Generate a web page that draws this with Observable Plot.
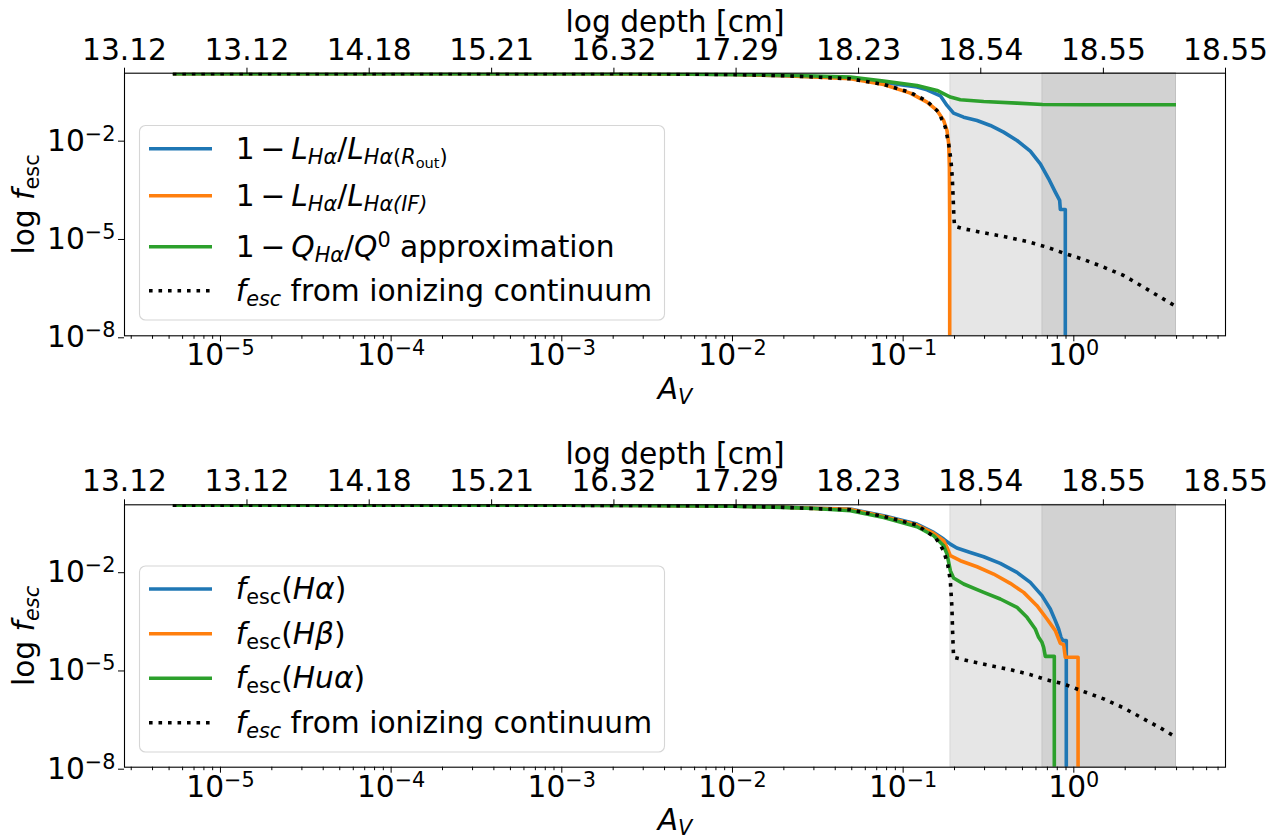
<!DOCTYPE html>
<html><head><meta charset="utf-8">
<script src="https://cdn.jsdelivr.net/npm/d3@7"></script>
<script src="https://cdn.jsdelivr.net/npm/@observablehq/plot@0.6"></script>
<style>
html,body{margin:0;padding:0;background:#fff;}
#wrap{position:relative;width:1279px;height:837px;overflow:hidden;background:#fff;}
#wrap svg{position:absolute;left:0;}
</style></head><body><div id="wrap"></div>
<script>
// ---------------- data (A_V, f_esc) ----------------
const topBlue = [[5.26e-6,1.0],[1e-4,0.9995],[1e-3,0.995],[3e-3,0.985],[1e-2,0.94],[2e-2,0.87],[3e-2,0.81],
  [0.0491,0.74],[0.0769,0.54],[0.1205,0.39],[0.1379,0.321],[0.1652,0.21],[0.1807,0.107],[0.1974,0.0622],
  [0.2262,0.047],[0.271,0.0372],[0.3243,0.0262],[0.3878,0.0164],[0.4645,0.00912],[0.556,0.00431],
  [0.6365,0.00177],[0.7122,6.17e-4],[0.7791,2.42e-4],[0.8262,1.35e-4],[0.8336,7.16e-5],[0.8915,7.16e-5],[0.8915,1e-12]];
const topOrange = [[5.26e-6,1.0],[1e-4,0.9995],[1e-3,0.995],[3e-3,0.985],[1e-2,0.94],[2e-2,0.86],[3e-2,0.79],
  [0.0491,0.695],[0.0769,0.467],[0.1101,0.254],[0.1379,0.135],[0.158,0.0752],[0.1727,0.0372],[0.1807,0.01844],
  [0.1848,0.00722],[0.1866,0.0014],[0.1874,2.07e-5],[0.1874,1e-12]];
const topGreen = [[5.26e-6,1.0],[1e-4,0.9996],[1e-3,0.996],[3e-3,0.988],[1e-2,0.95],[2e-2,0.9],[3e-2,0.85],
  [0.0491,0.782],[0.0769,0.59],[0.1205,0.435],[0.158,0.306],[0.189,0.192],[0.2164,0.159],[0.2965,0.141],
  [0.4645,0.126],[0.656,0.1146],[1.143,0.112],[3.97,0.112]];
const topDotted = [[5.26e-6,1.0],[1e-4,0.9995],[1e-3,0.995],[3e-3,0.985],[1e-2,0.94],[2e-2,0.86],[3e-2,0.79],
  [0.0491,0.695],[0.0769,0.467],[0.1101,0.266],[0.1379,0.145],[0.1615,0.0668],[0.1766,0.0233],[0.1848,0.00722],
  [0.1906,0.00224],[0.194,6.93e-4],[0.1966,1.35e-4],[0.1983,4.18e-5],[0.2001,2.22e-5],[0.2262,1.84e-5],
  [0.2965,1.39e-5],[0.3878,1.07e-5],[0.5318,7.55e-6],[0.6962,5.07e-6],[0.8717,3.33e-6],[1.143,2.13e-6],
  [1.496,1.24e-6],[1.958,6.93e-7],[2.564,3.05e-7],[3.211,1.51e-7],[3.97,7.85e-8]];

const botHa = [[5.26e-6,1.0],[1e-4,0.9995],[1e-3,0.995],[3e-3,0.985],[1e-2,0.94],[2e-2,0.87],[3e-2,0.81],
  [0.0491,0.761],[0.0769,0.476],[0.1205,0.265],[0.151,0.1476],[0.1727,0.0925],[0.189,0.065],[0.2064,0.0492],
  [0.2475,0.0362],[0.2965,0.0267],[0.3708,0.0167],[0.4645,0.00889],[0.556,0.00441],[0.6507,0.00173],
  [0.7283,6.76e-4],[0.7791,2.99e-4],[0.815,1.66e-4],[0.8411,9.25e-5],[0.8639,7.32e-5],[0.9035,7.32e-5],[0.9035,1e-12]];
const botHb = [[5.26e-6,1.0],[1e-4,0.9995],[1e-3,0.995],[3e-3,0.985],[1e-2,0.94],[2e-2,0.87],[3e-2,0.8],
  [0.0491,0.745],[0.0769,0.454],[0.1205,0.247],[0.151,0.1377],[0.1727,0.0822],[0.1807,0.0515],[0.189,0.0287],
  [0.2164,0.0202],[0.271,0.0132],[0.339,0.00791],[0.4243,0.00411],[0.5082,0.00218],[0.6083,8.55e-4],
  [0.6962,3.36e-4],[0.7791,1.48e-4],[0.815,8.23e-5],[0.8336,6.07e-5],[0.8717,5.53e-5],[0.8915,2.27e-5],
  [1.059,2.27e-5],[1.059,1e-12]];
const botHua = [[5.26e-6,1.0],[1e-4,0.9995],[1e-3,0.995],[3e-3,0.985],[1e-2,0.94],[2e-2,0.86],[3e-2,0.79],
  [0.0491,0.676],[0.0769,0.424],[0.1205,0.22],[0.151,0.1169],[0.1727,0.0579],[0.1807,0.0322],[0.189,0.01],
  [0.1974,0.00597],[0.2262,0.00392],[0.2965,0.00218],[0.3708,0.00137],[0.4645,7.61e-4],[0.5318,3.77e-4],
  [0.5946,1.66e-4],[0.6221,9.25e-5],[0.6507,6.51e-5],[0.6656,4.58e-5],[0.6808,2.43e-5],[0.7686,2.43e-5],[0.7686,1e-12]];
const botDotted = [[5.26e-6,1.0],[1e-4,0.9995],[1e-3,0.995],[3e-3,0.985],[1e-2,0.94],[2e-2,0.86],[3e-2,0.79],
  [0.0491,0.726],[0.0769,0.454],[0.1205,0.247],[0.1545,0.104],[0.1727,0.0408],[0.1823,0.016],[0.189,0.00495],
  [0.1931,7.61e-4],[0.1948,1.48e-4],[0.1974,2.27e-5],[0.2475,1.71e-5],[0.3243,1.26e-5],[0.4243,9.54e-6],
  [0.556,6.72e-6],[0.6962,4.62e-6],[0.8717,3.49e-6],[1.143,2.04e-6],[1.496,1.22e-6],[1.958,6.47e-7],
  [2.564,2.99e-7],[3.211,1.59e-7],[3.97,8.24e-8]];

// shaded A_V ranges
const shadeStarts = [0.189, 0.654];
const shadeEnds = [3.97, 3.97];

// axis ticks and labels
const xDomain = [2.74e-6, 7.74];
const yDomain = [1e-8, 1.03];
const majorX = [1e-5, 1e-4, 1e-3, 1e-2, 1e-1, 1];
const majorY = [1e-8, 1e-5, 1e-2];
const topTickAv = [2.74e-6, 1.43e-5, 7.44e-5, 3.88e-4, 2.02e-3, 1.05e-2, 5.48e-2, 0.285, 1.49, 7.74];
const topTickLabels = ["13.12","13.12","14.18","15.21","16.32","17.29","18.23","18.54","18.55","18.55"];

const C_BLUE = "#1f77b4", C_ORANGE = "#ff7f0e", C_GREEN = "#2ca02c";
const FS = 29.7;

// ---------------- helpers ----------------
const toRows = arr => arr.map(([Av, f]) => ({Av, f}));
const shades = shadeStarts.map((s, i) => ({x1: s, x2: shadeEnds[i]}));
const minorX = [];
for (let e = -6; e <= 0; e++) for (let k = 2; k <= 9; k++) {
  const v = k * Math.pow(10, e);
  if (v > xDomain[0] && v < xDomain[1]) minorX.push(v);
}
const topTicks = topTickAv.map((v, i) => ({v, label: topTickLabels[i]}));
const expFmt = d => "10^" + Math.round(Math.log10(d));

const I = t => ({t, i: true});
const R = t => ({t});
const SUB = (t, it) => ({t, i: !!it, s: 5, z: 0.7});
const SUBSUB = t => ({t, s: 9, z: 0.49});
const SUP = t => ({t, s: -10, z: 0.7});

function rich(el, parts, fs) {
  while (el.firstChild) el.removeChild(el.firstChild);
  let cur = 0;
  for (const p of parts) {
    const ts = document.createElementNS("http://www.w3.org/2000/svg", "tspan");
    const sh = p.s || 0;
    if (sh !== cur) ts.setAttribute("dy", sh - cur);
    cur = sh;
    if (p.i) ts.setAttribute("font-style", "italic");
    if (p.z) ts.setAttribute("font-size", (fs * p.z).toFixed(2));
    ts.textContent = p.t;
    el.appendChild(ts);
  }
}

function postProcess(svg, labelParts) {
  svg.querySelectorAll("text").forEach(el => {
    const s = el.textContent;
    const m = /^10\^(-?\d+)$/.exec(s);
    if (m) {
      const n = +m[1];
      rich(el, [R("10"), SUP((n < 0 ? "\u2212" : "") + Math.abs(n))], FS);
    } else if (labelParts[s]) {
      rich(el, labelParts[s], FS);
    }
  });
}

function drawLegend(svg, box, rows) {
  const g = d3.select(svg).append("g").attr("text-anchor", "start");
  g.append("rect").attr("x", box.x).attr("y", box.y).attr("width", box.w).attr("height", box.h)
    .attr("rx", 6).attr("fill", "white").attr("fill-opacity", 0.8)
    .attr("stroke", "#d6d6d6").attr("stroke-width", 1.1);
  rows.forEach(r => {
    g.append("line").attr("x1", 149).attr("x2", 212).attr("y1", r.y).attr("y2", r.y)
      .attr("stroke", r.color).attr("stroke-width", 3.6)
      .attr("stroke-dasharray", r.dash || null);
    const t = g.append("text").attr("x", 235.7).attr("y", r.y + 10).attr("text-anchor", "start")
      .attr("font-size", FS).attr("fill", "black").attr("font-family", "DejaVu Sans");
    rich(t.node(), r.parts, FS);
  });
}

function makePanel(cfg) {
  const marks = [
    Plot.rect(shades, {x1: "x1", x2: "x2", fill: "gray", fillOpacity: 0.2, stroke: "gray", strokeOpacity: 0.2, strokeWidth: 1}),
    ...cfg.series.map(s => Plot.line(toRows(s.data), {
      x: "Av", y: "f", stroke: s.color, strokeWidth: 3.6,
      strokeDasharray: s.dash, strokeLinecap: "butt", strokeLinejoin: "round", clip: true
    })),
    Plot.axisX({anchor: "bottom", ticks: minorX, tickSize: 3.5, tickFormat: () => "", label: null}),
    Plot.axisX({anchor: "bottom", ticks: majorX, tickSize: 6, tickPadding: 2.6, tickFormat: expFmt, label: null}),
    Plot.axisX({anchor: "top", ticks: topTickAv, tickSize: 6, tickFormat: () => "", label: null}),
    Plot.text(topTicks, {x: "v", text: "label", frameAnchor: "top", dy: -13.4, lineAnchor: "bottom"}),
    Plot.axisY({anchor: "left", ticks: majorY, tickSize: 6, tickPadding: 3, tickFormat: expFmt, label: null, dy: 2}),
    Plot.text(["log depth [cm]"], {frameAnchor: "top", dy: -41, lineAnchor: "bottom"}),
    Plot.text(["A_V"], {frameAnchor: "bottom", dy: 63, lineAnchor: "bottom"}),
    Plot.text(["LOGF"], {frameAnchor: "left", dx: -91, rotate: -90, lineAnchor: "bottom", textAnchor: "middle"}),
    Plot.frame({stroke: "black", strokeWidth: 1.1})
  ];
  const svg = Plot.plot({
    width: 1279, height: cfg.height,
    marginTop: cfg.mt, marginBottom: cfg.mb, marginLeft: 124, marginRight: 54,
    x: {type: "log", domain: xDomain, axis: null},
    y: {type: "log", domain: yDomain, axis: null},
    style: {fontFamily: "DejaVu Sans", fontSize: FS + "px", color: "black", background: "white", overflow: "visible"},
    marks
  });
  postProcess(svg, {
    "A_V": [I("A"), SUB("V", true)],
    "LOGF": cfg.ylabel
  });
  drawLegend(svg, cfg.legendBox, cfg.legendRows);
  svg.style.top = cfg.top + "px";
  document.getElementById("wrap").appendChild(svg);
}

const ESC_ITALIC = [I("f"), SUB("esc", true), R(" from ionizing continuum")];

makePanel({
  top: 0, height: 431, mt: 72.7, mb: 95.7,
  series: [
    {data: topBlue, color: C_BLUE},
    {data: topOrange, color: C_ORANGE},
    {data: topGreen, color: C_GREEN},
    {data: topDotted, color: "black", dash: "3.6,5.9"}
  ],
  ylabel: [R("log "), I("f"), SUB("esc")],
  legendBox: {x: 139.5, y: 125.5, w: 525, h: 194.5},
  legendRows: [
    {y: 148.7, color: C_BLUE, parts: [R("1\u2009\u2212\u2009"), I("L"), SUB("H\u03b1", true), R("/"), I("L"), SUB("H\u03b1", true), SUB("("), SUB("R", true), SUBSUB("out"), SUB(")")]},
    {y: 195.7, color: C_ORANGE, parts: [R("1\u2009\u2212\u2009"), I("L"), SUB("H\u03b1", true), R("/"), I("L"), SUB("H\u03b1(IF)", true)]},
    {y: 246.7, color: C_GREEN, parts: [R("1\u2009\u2212\u2009"), I("Q"), SUB("H\u03b1", true), R("/"), I("Q"), SUP("0"), R(" approximation")]},
    {y: 290.7, color: "black", dash: "3.6,5.9", parts: ESC_ITALIC}
  ]
});

makePanel({
  top: 431, height: 406, mt: 73.3, mb: 70.3,
  series: [
    {data: botHa, color: C_BLUE},
    {data: botHb, color: C_ORANGE},
    {data: botHua, color: C_GREEN},
    {data: botDotted, color: "black", dash: "3.6,5.9"}
  ],
  ylabel: [R("log "), I("f"), SUB("esc", true)],
  legendBox: {x: 139.5, y: 135, w: 525, h: 186},
  legendRows: [
    {y: 158, color: C_BLUE, parts: [I("f"), SUB("esc"), R("("), I("H\u03b1"), R(")")]},
    {y: 202.7, color: C_ORANGE, parts: [I("f"), SUB("esc"), R("("), I("H\u03b2"), R(")")]},
    {y: 247.3, color: C_GREEN, parts: [I("f"), SUB("esc"), R("("), I("Hu\u03b1"), R(")")]},
    {y: 291.7, color: "black", dash: "3.6,5.9", parts: ESC_ITALIC}
  ]
});
</script></body></html>
